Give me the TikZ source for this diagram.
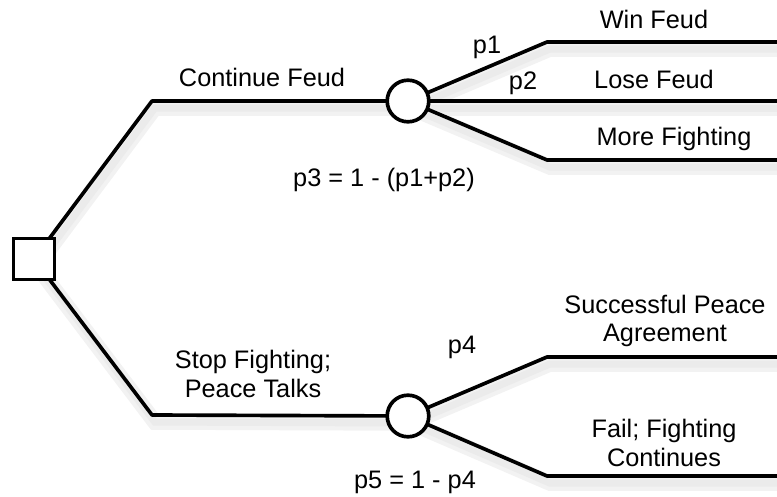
\documentclass[tikz,border=0pt]{standalone}
\usepackage{fontspec}
\setmainfont{Liberation Sans}
\usetikzlibrary{positioning, calc}

\begin{document}
\begin{tikzpicture}[x=0.025cm, y=-0.025cm,
        font=\fontsize{18}{20}\selectfont,
        decision/.style={rectangle, draw, line width=2.6pt, fill=white, minimum size=1.02cm, inner sep=0pt},
        chance/.style={circle, draw, line width=2.6pt, fill=white, minimum size=1.04cm, inner sep=0pt},
        branch/.style={draw, line width=2.6pt, line join=round,
            preaction={draw, black!5, line width=11pt, transform canvas={shift={(2pt,-5pt)}}},
            preaction={draw, black!8, line width=5pt, transform canvas={shift={(2pt,-5pt)}}}},
        lbl/.style={align=center, inner sep=1pt}]

        \useasboundingbox (0,0) rectangle (777,497);

        % Corners of the branches
        \coordinate (up_bend) at (152,101);
        \coordinate (low_bend) at (152,415);
        \coordinate (win_bend) at (547,42);
        \coordinate (win_end) at (777,42);
        \coordinate (lose_end) at (777,101);
        \coordinate (more_bend) at (547,160);
        \coordinate (more_end) at (777,160);
        \coordinate (succ_bend) at (547,357);
        \coordinate (succ_end) at (777,357);
        \coordinate (fail_bend) at (547,476);
        \coordinate (fail_end) at (777,476);

        % Paths
        \path [branch] (34,259) -- (up_bend) -- (408,101);
        \path [branch] (34,259) -- (low_bend) -- (408,416);
        \path [branch] (408,101) -- (win_bend) -- (win_end);
        \path [branch] (408,101) -- (lose_end);
        \path [branch] (408,101) -- (more_bend) -- (more_end);
        \path [branch] (408,416) -- (succ_bend) -- (succ_end);
        \path [branch] (408,416) -- (fail_bend) -- (fail_end);

        % Nodes
        \node [decision] (start) at (34,259) {};
        \node [chance] (feud) at (408,101) {};
        \node [chance] (talks) at (408,416) {};

        % Labels
        \node [lbl] (continue_lbl) at (262,77) {Continue Feud};
        \node [lbl] (stop_lbl) at (253,374) {Stop Fighting;\\Peace Talks};
        \node [lbl] (p1_lbl) at (487,47) {p1};
        \node [lbl] (p2_lbl) at (523,83) {p2};
        \node [lbl] (p3_lbl) at (384,180) {p3 = 1 - (p1+p2)};
        \node [lbl] (p4_lbl) at (462,347) {p4};
        \node [lbl] (p5_lbl) at (415,482) {p5 = 1 - p4};
        \node [lbl] (win_lbl) at (654,19) {Win Feud};
        \node [lbl] (lose_lbl) at (654,79) {Lose Feud};
        \node [lbl] (more_lbl) at (674,139) {More Fighting};
        \node [lbl] (succ_lbl) at (665,321) {Successful Peace\\Agreement};
        \node [lbl] (fail_lbl) at (664,443) {Fail; Fighting\\Continues};
    \end{tikzpicture}
\end{document}
